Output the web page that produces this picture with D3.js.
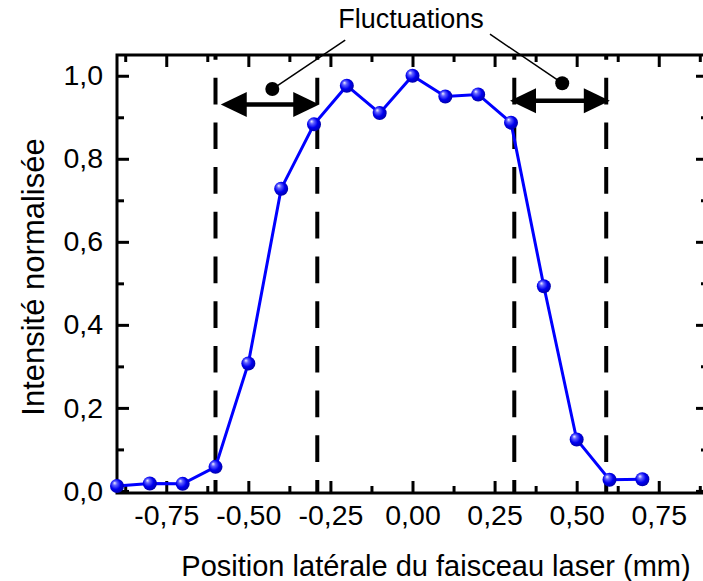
<!DOCTYPE html>
<html><head><meta charset="utf-8">
<script src="https://cdn.jsdelivr.net/npm/d3@7"></script>
<style>body{margin:0;background:#fff} svg{display:block} text{font-family:"Liberation Sans",Arial,sans-serif}</style>
</head><body><svg id="c" width="703" height="581"></svg>
<script>
const positions = [-0.9,-0.8,-0.7,-0.6,-0.5,-0.4,-0.3,-0.2,-0.1,0,0.1,0.2,0.3,0.4,0.5,0.6,0.7];
const intensities = [0.012,0.018,0.017,0.058,0.307,0.728,0.883,0.976,0.910,1.0,0.950,0.955,0.887,0.493,0.124,0.027,0.028];
const xTicks = [-0.75,-0.5,-0.25,0,0.25,0.5,0.75];
const xTickLabels = ["-0,75","-0,50","-0,25","0,00","0,25","0,50","0,75"];
const xMinor = [-0.875,-0.625,-0.375,-0.125,0.125,0.375,0.625,0.875];
const yTicks = [0,0.2,0.4,0.6,0.8,1.0];
const yTickLabels = ["0,0","0,2","0,4","0,6","0,8","1,0"];
const yMinor = [0.1,0.3,0.5,0.7,0.9];
const boundaries = [-0.6,-0.29,0.31,0.59];
const arrowStart = [-0.584, 0.297];
const arrowEnd = [-0.284, 0.601];
const arrowY = [0.931, 0.940];
const dotX = [-0.427, 0.456];
const dotY = [0.968, 0.982];
const leaderX = [-0.205, 0.236];
const leaderY = [1.086, 1.10];
const annotation = "Fluctuations";
const xTitle = "Position latérale du faisceau laser (mm)";
const yTitle = "Intensité normalisée";

const svg = d3.select("#c");
const L = 117, R = 708, T = 55, B = 493;
const x = d3.scaleLinear().domain([-0.9, 0.9]).range([L, R]);
const y = d3.scaleLinear().domain([-0.005, 1.05]).range([B, T]);

const defs = svg.append("defs");
const g = defs.append("radialGradient").attr("id","ball").attr("cx","45%").attr("cy","45%").attr("r","60%").attr("fx","32%").attr("fy","28%");
g.append("stop").attr("offset","0%").attr("stop-color","#f0f0ff");
g.append("stop").attr("offset","25%").attr("stop-color","#6060ff");
g.append("stop").attr("offset","60%").attr("stop-color","#0000f0");
g.append("stop").attr("offset","100%").attr("stop-color","#0000a0");

const fs = 28.5;
function styleAxis(sel){ sel.select(".domain").remove(); sel.selectAll("line").attr("stroke","#000").attr("stroke-width",3); sel.selectAll("text").attr("font-size",fs).attr("fill","#000").attr("font-family","'Liberation Sans',Arial,sans-serif"); }
svg.append("g").attr("transform",`translate(0,${B})`).call(d3.axisBottom(x).tickValues(xTicks).tickSize(-12).tickPadding(12).tickFormat((d,i)=>xTickLabels[i])).call(styleAxis);
svg.append("g").attr("transform",`translate(0,${B})`).call(d3.axisBottom(x).tickValues(xMinor).tickSize(-7).tickFormat("")).call(styleAxis);
svg.append("g").attr("transform",`translate(0,${T})`).call(d3.axisTop(x).tickValues(xTicks).tickSize(-12).tickFormat("")).call(styleAxis);
svg.append("g").attr("transform",`translate(0,${T})`).call(d3.axisTop(x).tickValues(xMinor).tickSize(-7).tickFormat("")).call(styleAxis);
svg.append("g").attr("transform",`translate(${L},0)`).call(d3.axisLeft(y).tickValues(yTicks).tickSize(-12).tickPadding(14).tickFormat((d,i)=>yTickLabels[i])).call(styleAxis);
svg.append("g").attr("transform",`translate(${L},0)`).call(d3.axisLeft(y).tickValues(yMinor).tickSize(-7).tickFormat("")).call(styleAxis);
svg.append("g").attr("transform",`translate(${R},0)`).call(d3.axisRight(y).tickValues(yTicks).tickSize(-12).tickFormat("")).call(styleAxis);
svg.append("g").attr("transform",`translate(${R},0)`).call(d3.axisRight(y).tickValues(yMinor).tickSize(-7).tickFormat("")).call(styleAxis);
svg.append("rect").attr("x",L).attr("y",T).attr("width",R-L).attr("height",B-T).attr("fill","none").attr("stroke","#000").attr("stroke-width",3);

svg.append("g").selectAll("line").data(boundaries).join("line")
  .attr("x1",d=>x(d)).attr("x2",d=>x(d)).attr("y1",B).attr("y2",T)
  .attr("stroke","#000").attr("stroke-width",4).attr("stroke-dasharray","26.7,18").attr("stroke-dashoffset",13.7);

const hl = 26, hw = 12.5;
arrowStart.forEach((s,i)=>{
  const x1 = x(s), x2 = x(arrowEnd[i]), yy = y(arrowY[i]);
  svg.append("line").attr("x1",x1+hl-2).attr("x2",x2-hl+2).attr("y1",yy).attr("y2",yy).attr("stroke","#000").attr("stroke-width",4.5);
  svg.append("path").attr("d",`M${x1},${yy}L${x1+hl},${yy-hw}L${x1+hl},${yy+hw}Z`).attr("fill","#000");
  svg.append("path").attr("d",`M${x2},${yy}L${x2-hl},${yy-hw}L${x2-hl},${yy+hw}Z`).attr("fill","#000");
  svg.append("line").attr("x1",x(dotX[i])).attr("y1",y(dotY[i])).attr("x2",x(leaderX[i])).attr("y2",y(leaderY[i])).attr("stroke","#000").attr("stroke-width",1.5);
  svg.append("circle").attr("cx",x(dotX[i])).attr("cy",y(dotY[i])).attr("r",7).attr("fill","#000");
});

const line = d3.line().x((d,i)=>x(positions[i])).y(d=>y(d));
svg.append("path").datum(intensities).attr("d",line).attr("fill","none").attr("stroke","#0000ff").attr("stroke-width",3);
svg.append("g").selectAll("circle").data(intensities).join("circle")
  .attr("cx",(d,i)=>x(positions[i])).attr("cy",d=>y(d)).attr("r",7).attr("fill","url(#ball)");

svg.append("text").attr("x",411).attr("y",28).attr("text-anchor","middle").attr("font-size",27).text(annotation);
svg.append("text").attr("x",436).attr("y",576).attr("text-anchor","middle").attr("font-size",29).text(xTitle);
svg.append("text").attr("transform","translate(44,277) rotate(-90)").attr("text-anchor","middle").attr("font-size",31).text(yTitle);
</script></body></html>
